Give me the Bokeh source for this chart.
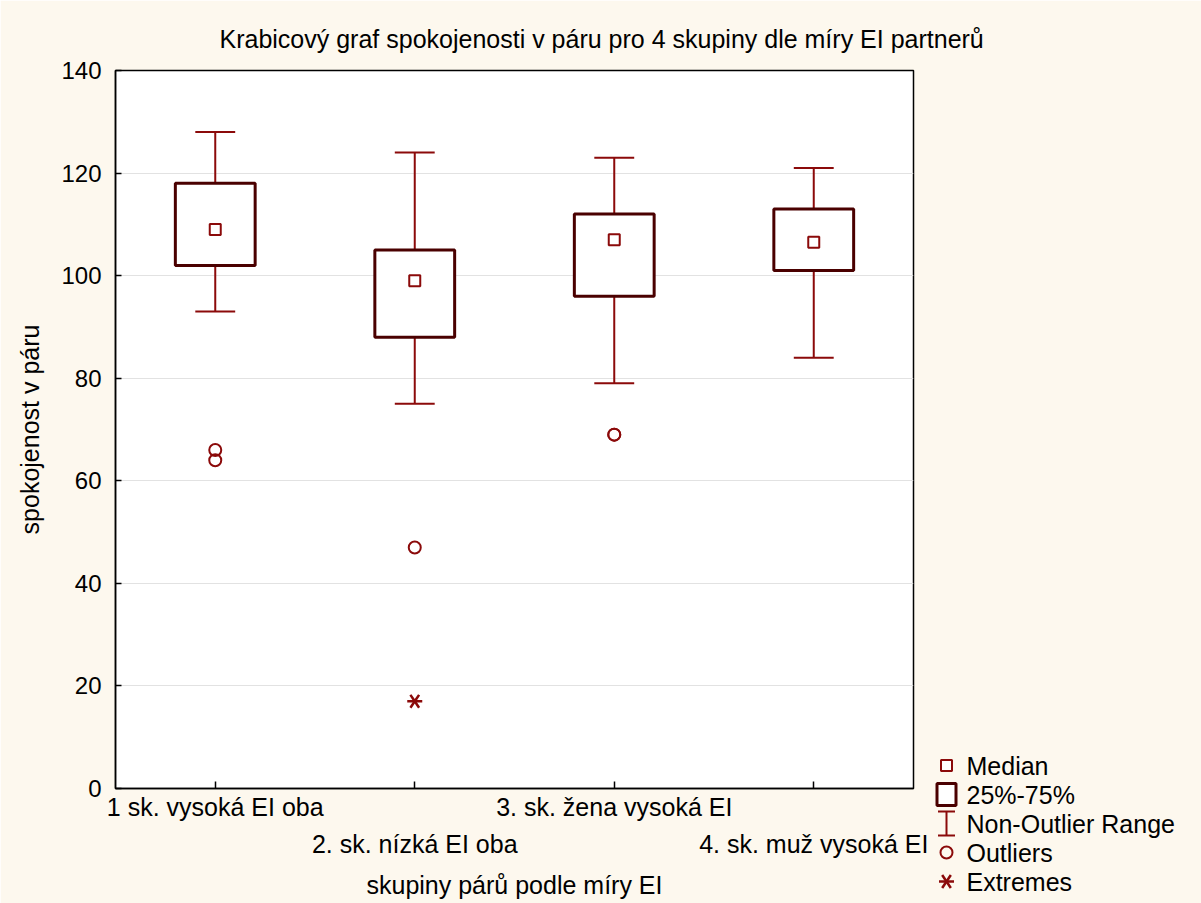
from bokeh.plotting import figure
from bokeh.models import Range1d, FixedTicker, LinearAxis, ColumnDataSource
from bokeh.core.properties import value
from bokeh.embed import file_html
from bokeh.resources import INLINE

# --- data -------------------------------------------------------------
groups = ["1 sk. vysoká EI oba", "2. sk. nízká EI oba",
          "3. sk. žena vysoká EI", "4. sk. muž vysoká EI"]
positions = [1, 2, 3, 4]
medians = [109, 99, 107, 106.5]
q1 = [102, 88, 96, 101]
q3 = [118, 105, 112, 113]
whisker_low = [93, 75, 79, 84]
whisker_high = [128, 124, 123, 121]
outlier_pos = [1, 1, 2, 3, 3]
outlier_vals = [66, 64, 47, 69, 69]
extreme_pos = [2]
extreme_vals = [17]
y_ticks = [0, 20, 40, 60, 80, 100, 120, 140]
legend_labels = ["Median", "25%-75%", "Non-Outlier Range", "Outliers", "Extremes"]

title_text = "Krabicový graf spokojenosti v páru pro 4 skupiny dle míry EI partnerů"
x_label = "skupiny párů podle míry EI"
y_label = "spokojenost v páru"

# --- style ------------------------------------------------------------
BG = "#FDF8EE"
WHISKER = "#8B0A0A"
BOX_LINE = "#4A0000"
FONT = "Liberation Sans"
FS = "25px"

box_width = 0.4
cap_width = 0.2
HALF_TURN = 1.5708  # rotation for the six-armed "extreme" star

W, H = 1201, 903
FRAME_RIGHT = 913

p = figure(width=W, height=H, output_backend="svg", toolbar_location=None,
           x_range=Range1d(0.5, 4.5), y_range=Range1d(0, 140),
           min_border_left=115, min_border_right=W - FRAME_RIGHT,
           min_border_top=70, min_border_bottom=115)
p.background_fill_color = "white"
p.border_fill_color = BG
p.outline_line_color = "black"
p.outline_line_width = 1.5

# title
p.title.text = title_text
p.title.align = "left"
p.title.offset = 104
p.title.standoff = 36
p.title.text_font = FONT
p.title.text_font_size = FS
p.title.text_font_style = "normal"
p.title.text_color = "black"

# grid
p.xgrid.visible = False
p.ygrid.ticker = FixedTicker(ticks=y_ticks)
p.ygrid.grid_line_color = "#E2E2E2"
p.ygrid.grid_line_width = 1

# y axis
ya = p.yaxis[0]
ya.ticker = FixedTicker(ticks=y_ticks)
ya.major_tick_in = 6
ya.major_tick_out = 0
ya.minor_tick_line_color = None
ya.axis_line_color = "black"
ya.axis_line_width = 1.5
ya.major_tick_line_width = 1.5
ya.major_label_text_font = FONT
ya.major_label_text_font_size = "24px"
ya.major_label_text_color = "black"
ya.major_label_standoff = 14
ya.axis_label = y_label
ya.axis_label_text_font = FONT
ya.axis_label_text_font_size = FS
ya.axis_label_text_font_style = "normal"
ya.axis_label_text_color = "black"
ya.axis_label_standoff = 14

# x axis, first row of labels (groups 1 and 3) with inward ticks at every group
xa = p.xaxis[0]
xa.ticker = FixedTicker(ticks=positions)
xa.major_label_overrides = {pos: (name if i % 2 == 0 else "")
                            for i, (pos, name) in enumerate(zip(positions, groups))}
xa.major_tick_in = 7
xa.major_tick_out = 0
xa.minor_tick_line_color = None
xa.axis_line_color = "black"
xa.axis_line_width = 1.5
xa.major_tick_line_width = 1.5
xa.major_label_text_font = FONT
xa.major_label_text_font_size = FS
xa.major_label_text_color = "black"
xa.major_label_standoff = 4

# second row of labels (groups 2 and 4) and the axis title
xa2 = LinearAxis(ticker=FixedTicker(ticks=positions[1::2]),
                 major_label_overrides={pos: name for pos, name in
                                        zip(positions[1::2], groups[1::2])})
xa2.axis_line_color = None
xa2.major_tick_line_color = None
xa2.minor_tick_line_color = None
xa2.major_label_text_font = FONT
xa2.major_label_text_font_size = FS
xa2.major_label_text_color = "black"
xa2.major_label_standoff = 0
xa2.axis_label = x_label
xa2.axis_label_text_font = FONT
xa2.axis_label_text_font_size = FS
xa2.axis_label_text_font_style = "normal"
xa2.axis_label_text_color = "black"
xa2.axis_label_standoff = 10
p.add_layout(xa2, "below")

# --- boxes --------------------------------------------------------------
src = ColumnDataSource(dict(
    x=positions, med=medians, q1=q1, q3=q3, lo=whisker_low, hi=whisker_high,
    cl=[v - cap_width / 2 for v in positions],
    cr=[v + cap_width / 2 for v in positions],
))

p.segment(x0="x", y0="q3", x1="x", y1="hi", source=src, line_color=WHISKER, line_width=2)
p.segment(x0="x", y0="q1", x1="x", y1="lo", source=src, line_color=WHISKER, line_width=2)
p.segment(x0="cl", y0="hi", x1="cr", y1="hi", source=src, line_color=WHISKER, line_width=2)
p.segment(x0="cl", y0="lo", x1="cr", y1="lo", source=src, line_color=WHISKER, line_width=2)
p.vbar(x="x", width=box_width, top="q3", bottom="q1", source=src,
       fill_color="white", line_color=BOX_LINE, line_width=3)
p.scatter(x="x", y="med", source=src, marker="square", size=11,
          fill_color="white", line_color=WHISKER, line_width=2)

p.scatter(x=outlier_pos, y=outlier_vals, marker="circle", size=12,
          fill_color=None, line_color=WHISKER, line_width=2)
# six-armed star: two opposite "y" markers
for ang in (HALF_TURN, -HALF_TURN):
    p.scatter(x=extreme_pos, y=extreme_vals, marker="y", size=15,
              angle=ang, line_color=WHISKER, line_width=2.5)

# --- legend panel, laid over the right margin (page-pixel coordinates) ------
lg = figure(width=W - FRAME_RIGHT, height=H, output_backend="svg",
            toolbar_location=None,
            x_range=Range1d(FRAME_RIGHT, W), y_range=Range1d(H, 0),
            x_axis_type=None, y_axis_type=None, min_border=0)
lg.background_fill_alpha = 0
lg.border_fill_alpha = 0
lg.outline_line_color = None
lg.xgrid.visible = False
lg.ygrid.visible = False
lg.styles = {"position": "absolute", "left": f"{FRAME_RIGHT}px", "top": "0px"}

row_y = [765, 794, 823, 852, 881]
mx = 946
tx = 966
lg.scatter(x=[mx], y=[row_y[0]], marker="square", size=11,
           fill_color="white", line_color=WHISKER, line_width=2)
lg.rect(x=[mx], y=[row_y[1]], width=19, height=22,
        fill_color="white", line_color=BOX_LINE, line_width=3)
lg.segment(x0=[mx, mx - 8.5, mx - 8.5], y0=[row_y[2] - 12, row_y[2] - 12, row_y[2] + 12],
           x1=[mx, mx + 8.5, mx + 8.5], y1=[row_y[2] + 12, row_y[2] - 12, row_y[2] + 12],
           line_color=WHISKER, line_width=2)
lg.scatter(x=[mx], y=[row_y[3]], marker="circle", size=12,
           fill_color=None, line_color=WHISKER, line_width=2)
for ang in (HALF_TURN, -HALF_TURN):
    lg.scatter(x=[mx], y=[row_y[4]], marker="y", size=15, angle=ang,
               line_color=WHISKER, line_width=2.5)
lg.text(x=[tx] * len(legend_labels), y=row_y, text=legend_labels,
        text_font=value(FONT), text_font_size=FS, text_baseline="middle",
        text_align="left", text_color="black")

open("out.html", "w").write(file_html([p, lg], INLINE))
